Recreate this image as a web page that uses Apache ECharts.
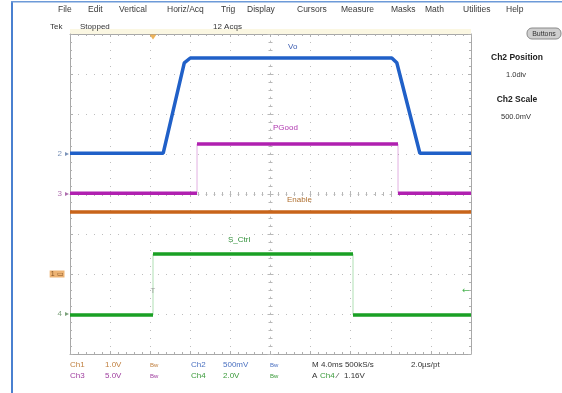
<!DOCTYPE html>
<html><head><meta charset="utf-8">
<script src="https://cdn.jsdelivr.net/npm/echarts@6/dist/echarts.min.js"></script>
<style>html,body{margin:0;padding:0;background:#fff}#c{width:562px;height:393px}</style>
</head><body><div id="c"></div>
<script>
// ---- data (time in ms relative to screen centre, 4.0 ms/div) ----
const voTime  = [-20, -10.7, -8.6, -8.0, 12.1, 12.6, 14.9, 20];
const voVolts = [0.01, 0.01, 1.14, 1.2, 1.2, 1.14, 0.01, 0.01];
const pgTime  = [-20, -7.33, -7.33, 12.72, 12.72, 20];
const pgVolts = [0.1, 0.1, 6.25, 6.25, 0.1, 0.1];
const enTime  = [-20, 20];
const enVolts = [1.55, 1.55];
const scTime  = [-20, -11.72, -11.72, 8.23, 8.23, 20];
const scVolts = [-0.05, -0.05, 3.0, 3.0, -0.05, -0.05];
const traceNames = ['Enable', 'Vo', 'PGood', 'S_Ctrl'];
// channel settings: Ch1..Ch4
const chScale    = [1.0, 0.5, 5.0, 2.0];   // V/div
const chPosition = [-2, 1, 0, -3];         // div
const chMarks    = ['1', '2', '3', '4'];
const trigTime = -11.72;                   // ms
const trigLevel = 1.16;                    // V on Ch4
const menuItems = ['File','Edit','Vertical','Horiz/Acq','Trig','Display','Cursors','Measure','Masks','Math','Utilities','Help'];

const toDiv = (v, ch) => v / chScale[ch] + chPosition[ch];
const pts = (ts, vs, ch) => ts.map((t, i) => [t, toDiv(vs[i], ch)]);
function flats(p) {
  const out = [p[0]];
  for (let i = 1; i < p.length; i++) {
    if (p[i][0] === p[i - 1][0]) out.push([p[i][0], '-']);
    out.push(p[i]);
  }
  return out;
}
function edges(p) {
  const out = [];
  for (let i = 1; i < p.length; i++) {
    if (p[i][0] === p[i - 1][0]) { out.push(p[i - 1], p[i], [p[i][0], '-']); }
  }
  return out;
}

const colBlue = '#2060c8', colMag = '#b020b0', colOra = '#c8641a', colGrn = '#1aa024';
const enP = pts(enTime, enVolts, 0);
const voP = pts(voTime, voVolts, 1);
const pgP = pts(pgTime, pgVolts, 2);
const scP = pts(scTime, scVolts, 3);

const dotted = { color: '#bdbdbd', width: 1, type: [1, 7] };
function centreX(grid, inside) {
  return { gridIndex: grid, type: 'value', min: -20, max: 20, interval: 4,
    axisLine: { show: grid === 0, onZero: true, lineStyle: dotted },
    axisTick: { show: true, inside: inside, length: 3, lineStyle: { color: '#b8b8b8' } },
    minorTick: { show: true, splitNumber: 5, length: 2, lineStyle: { color: '#b8b8b8' } },
    axisLabel: { show: false }, splitLine: { show: grid === 0, lineStyle: dotted } };
}
function centreY(grid, inside) {
  return { gridIndex: grid, type: 'value', min: -4, max: 4, interval: 1,
    axisLine: { show: grid === 0, onZero: true, lineStyle: dotted },
    axisTick: { show: true, inside: inside, length: 3, lineStyle: { color: '#b8b8b8' } },
    minorTick: { show: true, splitNumber: 5, length: 2, lineStyle: { color: '#b8b8b8' } },
    axisLabel: { show: false }, splitLine: { show: grid === 0, lineStyle: dotted } };
}
function borderAx(kind, pos) {
  const isX = kind === 'x';
  return { gridIndex: 1, type: 'value', position: pos,
    min: isX ? -20 : -4, max: isX ? 20 : 4, interval: isX ? 4 : 1,
    axisLine: { show: true, onZero: false, lineStyle: { color: '#a8a8a8', width: 1 } },
    axisTick: { show: true, inside: true, length: 3, lineStyle: { color: '#b0b0b0' } },
    minorTick: { show: true, splitNumber: 5, length: 2, lineStyle: { color: '#b0b0b0' } },
    axisLabel: { show: false }, splitLine: { show: false } };
}
const gridRect = { left: 70, top: 34, width: 401, height: 320 };

function trace(name, data, color, w) {
  return { name, type: 'line', xAxisIndex: 0, yAxisIndex: 0, data, showSymbol: false,
    symbol: 'none', lineStyle: { color, width: w }, animation: false, z: 5 };
}
function edge(data, color) {
  return { type: 'line', xAxisIndex: 0, yAxisIndex: 0, data, symbol: 'none',
    lineStyle: { color, width: 1, opacity: 0.35 }, animation: false, z: 4 };
}
const clear = 'rgba(0,0,0,0)';
const markCol = ['#c07020', '#5a78a8', '#9a4a9a', '#5a8a5a'];
function chMarker(ch) {
  const isBox = ch === 0;
  return { type: 'scatter', xAxisIndex: 0, yAxisIndex: 0, clip: false, animation: false, z: 6,
    data: [[-20, chPosition[ch]]],
    symbol: 'triangle', symbolRotate: -90, symbolSize: isBox ? 1 : 4, symbolOffset: [-3, 0],
    itemStyle: { color: isBox ? clear : markCol[ch] },
    label: { show: true, position: 'left', distance: isBox ? 2 : 3, formatter: chMarks[ch] + (isBox ? ' \u25ad' : ''),
      color: isBox ? '#6a3a10' : markCol[ch], fontSize: isBox ? 7 : 8, fontFamily: 'Liberation Sans',
      backgroundColor: isBox ? '#e8a050' : 'transparent', padding: isBox ? [0, 1] : 0 } };
}
function textMark(x, y, txt, color, size, pos, dist) {
  return { type: 'scatter', xAxisIndex: 0, yAxisIndex: 0, clip: false, z: 7, animation: false,
    data: [[x, y]], symbol: 'circle', symbolSize: 1, itemStyle: { color: clear },
    label: { show: true, position: pos, distance: dist, formatter: txt, color, fontSize: size, fontFamily: 'DejaVu Sans' } };
}

const texts = [];
function T(x, y, s, opt) {
  texts.push({ type: 'text', x, y, silent: true, z: 10,
    style: Object.assign({ text: s, fill: '#333', font: '8px "Liberation Sans"', textVerticalAlign: 'middle' }, opt || {}) });
}
// frame
texts.push({ type: 'rect', shape: { x: 11, y: 2, width: 2, height: 391 }, style: { fill: '#4a80d0' }, z: 1 });
texts.push({ type: 'rect', shape: { x: 11, y: 1, width: 551, height: 1.5 }, style: { fill: '#6d9ad8' }, z: 1 });
texts.push({ type: 'rect', shape: { x: 70, y: 29, width: 401, height: 5 }, style: { fill: '#fbf7e2' }, z: 0 });
// menu
const menuX = [58, 88, 119, 167, 221, 247, 297, 341, 391, 425, 463, 506];
menuItems.forEach((m, i) => T(menuX[i], 10, m, { fill: '#3a3a3a', font: '8.5px "Liberation Sans"' }));
T(50, 27, 'Tek'); T(80, 27, 'Stopped'); T(213, 27, '12 Acqs');
// buttons + right panel
texts.push({ type: 'rect', shape: { x: 527, y: 28, width: 34, height: 11, r: 5 },
  style: { fill: '#cfcfcf', stroke: '#8a8a8a', lineWidth: 1 }, z: 9 });
T(544, 34, 'Buttons', { font: '7px "Liberation Sans"', textAlign: 'center' });
T(517, 58, 'Ch2 Position', { font: 'bold 8.5px "Liberation Sans"', textAlign: 'center', fill: '#222' });
T(516, 75, '1.0div', { font: '7.5px "Liberation Sans"', textAlign: 'center' });
T(517, 100, 'Ch2 Scale', { font: 'bold 8.5px "Liberation Sans"', textAlign: 'center', fill: '#222' });
T(516, 117, '500.0mV', { font: '7.5px "Liberation Sans"', textAlign: 'center' });
// trace labels
T(288, 47, 'Vo', { fill: '#3c5cb0' });
T(273, 128, 'PGood', { fill: '#b038b0' });
T(287, 200, 'Enable', { fill: '#b07030' });
T(228, 240, 'S_Ctrl', { fill: '#309038' });
// readouts
const cO = '#c08040', cB = '#4a70c0', cM = '#a040a0', cG = '#3a9a3a';
T(70, 365, 'Ch1', { fill: cO }); T(105, 365, '1.0V', { fill: cO }); T(150, 365, 'Bw', { fill: cO, font: '6px "Liberation Sans"' });
T(191, 365, 'Ch2', { fill: cB }); T(223, 365, '500mV', { fill: cB }); T(270, 365, 'Bw', { fill: cB, font: '6px "Liberation Sans"' });
T(312, 365, 'M 4.0ms 500kS/s'); T(411, 365, '2.0\u00b5s/pt');
T(70, 376, 'Ch3', { fill: cM }); T(105, 376, '5.0V', { fill: cM }); T(150, 376, 'Bw', { fill: cM, font: '6px "Liberation Sans"' });
T(191, 376, 'Ch4', { fill: cG }); T(223, 376, '2.0V', { fill: cG }); T(270, 376, 'Bw', { fill: cG, font: '6px "Liberation Sans"' });
T(312, 376, 'A'); T(320, 376, 'Ch4', { fill: cG }); T(337, 376, '\u2044'); T(344, 376, '1.16V');

const option = {
  backgroundColor: '#ffffff',
  animation: false,
  grid: [Object.assign({ show: false }, gridRect), Object.assign({ show: false }, gridRect), Object.assign({ show: false }, gridRect)],
  xAxis: [centreX(0, false), borderAx('x', 'bottom'), borderAx('x', 'top'), centreX(2, true)],
  yAxis: [centreY(0, false), borderAx('y', 'left'), borderAx('y', 'right'), centreY(2, true)],
  series: [
    edge(edges(pgP), colMag), edge(edges(scP), colGrn),
    trace(traceNames[0], enP, colOra, 3.5),
    trace(traceNames[2], flats(pgP), colMag, 3.5),
    trace(traceNames[3], flats(scP), colGrn, 3.5),
    trace(traceNames[1], voP, colBlue, 3.5),
    chMarker(0), chMarker(1), chMarker(2), chMarker(3),
    { type: 'scatter', xAxisIndex: 0, yAxisIndex: 0, clip: false, z: 7, animation: false,
      data: [[trigTime, 4]], symbol: 'triangle', symbolRotate: 180, symbolSize: [7, 5], symbolOffset: [0, 3],
      itemStyle: { color: '#e8a030' } },
    textMark(trigTime, toDiv(trigLevel, 3), 'T', '#888', 7, 'inside', 0),
    textMark(20, toDiv(trigLevel, 3), '\u2190', colGrn, 9, 'left', 1)
  ],
  graphic: texts
};
option.xAxis[3].gridIndex = 2; option.yAxis[3].gridIndex = 2;
const chart = echarts.init(document.getElementById('c'));
chart.setOption(option);
</script></body></html>
